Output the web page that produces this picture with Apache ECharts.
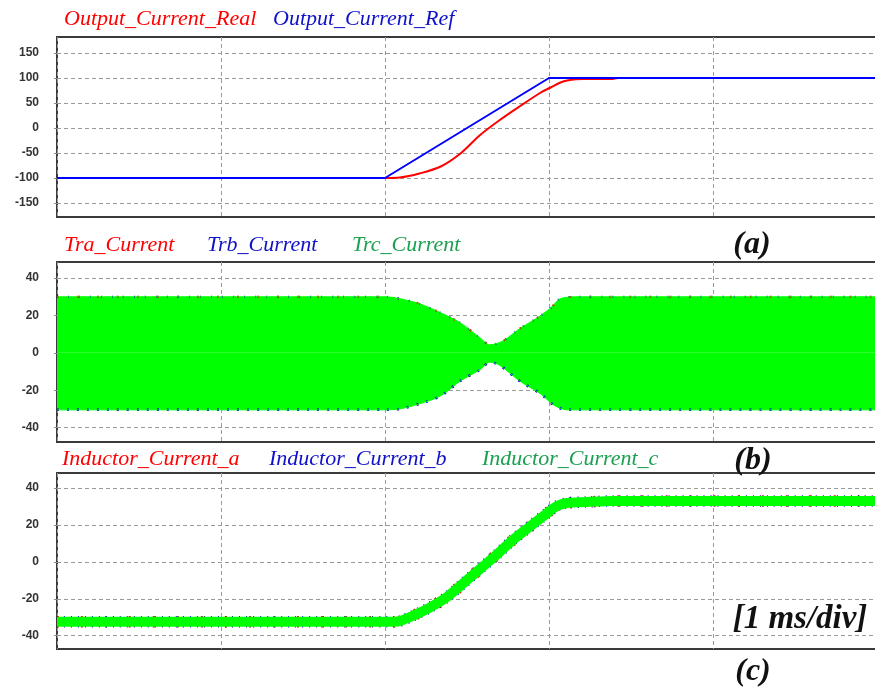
<!DOCTYPE html>
<html>
<head>
<meta charset="utf-8">
<script src="https://cdn.jsdelivr.net/npm/echarts@6/dist/echarts.min.js"></script>
<style>html,body{margin:0;padding:0;background:#fff}#c{width:875px;height:689px}</style>
</head>
<body>
<div id="c"></div>
<script>
// ---------- Data (time in ms) ----------
// Panel (a)
var refT = [0, 2.0, 3.0, 5.0];
var refV = [-100, -100, 100, 100];
var realT = [0, 2.0, 2.09, 2.21, 2.34, 2.46, 2.58, 2.70, 2.82, 2.95, 3.01, 3.07, 3.11, 3.21, 3.38, 3.42, 5.0];
var realV = [-100, -100, -99, -91, -77, -51, -14, 16, 43, 71, 81, 91, 95, 98, 98, 100, 100];
// Panel (b) envelopes of transformer currents
var upT = [0, 2.0, 2.09, 2.21, 2.34, 2.46, 2.58, 2.64, 2.72, 2.82, 2.93, 3.01, 3.07, 3.19, 5.0];
var upV = [30, 30, 29, 26.3, 21.4, 16, 8, 4.3, 6.4, 12.9, 18.8, 24, 29, 30, 30];
var loT = [0, 2.0, 2.09, 2.21, 2.34, 2.46, 2.58, 2.64, 2.70, 2.82, 2.95, 3.03, 3.11, 5.0];
var loV = [-30.5, -30.5, -30, -27.3, -23, -15, -9, -5, -6.7, -15, -22, -28, -30.5, -30.5];
// Panel (c) inductor current centre trace
var indT = [0, 2.05, 2.10, 2.17, 2.27, 2.38, 2.48, 2.58, 2.68, 2.78, 2.88, 2.99, 3.05, 3.11, 3.23, 3.39, 5.0];
var indV = [-32.5, -32.5, -31.8, -29.2, -24.9, -18.9, -11.4, -3.8, 3.8, 11.9, 18.9, 26.5, 30.3, 31.9, 32.4, 33, 33];
// Tick labels
var ticksA = [-150, -100, -50, 0, 50, 100, 150];
var ticksB = [-40, -20, 0, 20, 40];
var ticksC = [-40, -20, 0, 20, 40];

function pairs(t, v) { return t.map(function (x, i) { return [x, v[i]]; }); }

var RED = '#ff0000', BLUE = '#0000ff', GREEN = '#00ff00';
var gridLine = { show: true, lineStyle: { color: '#9a9a9a', type: [4, 3], width: 1 } };

function xAx(i) {
  return { gridIndex: i, type: 'value', min: 0, max: 5, interval: 1,
    axisLine: { show: false }, axisTick: { show: false }, axisLabel: { show: false },
    splitLine: gridLine };
}
function yAx(i, min, max, ticks) {
  return { gridIndex: i, type: 'value', min: min, max: max,
    axisLine: { show: false },
    axisTick: { show: true, customValues: ticks, length: 3, lineStyle: { color: '#888', width: 1 } },
    axisLabel: { customValues: ticks, color: '#333', fontSize: 12, fontWeight: 'bold', fontFamily: 'Liberation Sans', margin: 18 },
    splitLine: gridLine };
}
function txt(x, y, s, color, font, align) {
  return { type: 'text', x: x, y: y, silent: true,
    style: { text: s, fill: color, font: font, align: align || 'left', verticalAlign: 'middle' } };
}
var LF = 'italic 22px "Liberation Serif"';
var PF = 'italic bold 32px "Liberation Serif"';
var MF = 'italic bold 33px "Liberation Serif"';

function grid(top, h) {
  return { left: 57, top: top, height: h, width: 820, outerBoundsMode: 'none', containLabel: false,
    show: true, borderColor: '#3a3a3a', borderWidth: 2 };
}

var option = {
  animation: false,
  backgroundColor: '#fff',
  grid: [grid(37, 180), grid(262, 180), grid(473, 176)],
  xAxis: [xAx(0), xAx(1), xAx(2)],
  yAxis: [yAx(0, -178, 182, ticksA), yAx(1, -47.7, 48.6, ticksB), yAx(2, -47.2, 48.1, ticksC)],
  graphic: [
    txt(64, 19, 'Output_Current_Real', RED, LF),
    txt(273, 19, 'Output_Current_Ref', '#1010c8', LF),
    txt(64, 245, 'Tra_Current', RED, LF),
    txt(207, 245, 'Trb_Current', '#1010c8', LF),
    txt(352, 245, 'Trc_Current', '#1aa050', LF),
    txt(62, 459, 'Inductor_Current_a', RED, LF),
    txt(269, 459, 'Inductor_Current_b', '#1010c8', LF),
    txt(482, 459, 'Inductor_Current_c', '#1aa050', LF),
    txt(752, 245, '(a)', '#111', PF, 'center'),
    txt(753, 461, '(b)', '#111', PF, 'center'),
    txt(753, 672, '(c)', '#111', PF, 'center'),
    txt(800, 619, '[1 ms/div]', '#111', MF, 'center')
  ],
  series: [
    // (a)
    { name: 'Output_Current_Real', type: 'line', xAxisIndex: 0, yAxisIndex: 0, data: pairs(realT, realV),
      showSymbol: false, smooth: 0.3, lineStyle: { color: RED, width: 2 } },
    { name: 'Output_Current_Ref', type: 'line', xAxisIndex: 0, yAxisIndex: 0, data: pairs(refT, refV),
      showSymbol: false, lineStyle: { color: BLUE, width: 2 } },
    // (b) envelopes: red & blue edges under green fill
    { name: 'Tra_Current', type: 'line', xAxisIndex: 1, yAxisIndex: 1, data: pairs(upT, upV), showSymbol: false, smooth: 0.3,
      lineStyle: { color: RED, width: 2, type: [2, 18] } },
    { name: 'Tra_Current', type: 'line', xAxisIndex: 1, yAxisIndex: 1, data: pairs(loT, loV), showSymbol: false, smooth: 0.3,
      lineStyle: { color: RED, width: 2, type: [2, 18] } },
    { name: 'Trb_Current', type: 'line', xAxisIndex: 1, yAxisIndex: 1, data: pairs(upT, upV), showSymbol: false, smooth: 0.3,
      lineStyle: { color: BLUE, width: 2, type: [1, 10] } },
    { name: 'Trb_Current', type: 'line', xAxisIndex: 1, yAxisIndex: 1, data: pairs(loT, loV), showSymbol: false, smooth: 0.3,
      lineStyle: { color: BLUE, width: 2.5, type: [2, 8] } },
    { name: 'Trc_Current', type: 'line', xAxisIndex: 1, yAxisIndex: 1, data: pairs(upT, upV), showSymbol: false, smooth: 0.3,
      lineStyle: { color: GREEN, width: 1 }, areaStyle: { color: GREEN, opacity: 1, origin: 0 } },
    { name: 'Trc_Current', type: 'line', xAxisIndex: 1, yAxisIndex: 1, data: pairs(loT, loV), showSymbol: false, smooth: 0.3,
      lineStyle: { color: GREEN, width: 1 }, areaStyle: { color: GREEN, opacity: 1, origin: 0 } },
    // (c)
    { name: 'Inductor_Current_a', type: 'line', xAxisIndex: 2, yAxisIndex: 2, data: pairs(indT, indV), showSymbol: false, smooth: 0.3,
      lineStyle: { color: RED, width: 11.5, type: [2, 22], cap: 'butt' } },
    { name: 'Inductor_Current_b', type: 'line', xAxisIndex: 2, yAxisIndex: 2, data: pairs(indT, indV), showSymbol: false, smooth: 0.3,
      lineStyle: { color: BLUE, width: 11.5, type: [1, 6], cap: 'butt' } },
    { name: 'Inductor_Current_c', type: 'line', xAxisIndex: 2, yAxisIndex: 2, data: pairs(indT, indV), showSymbol: false, smooth: 0.3,
      lineStyle: { color: GREEN, width: 10, cap: 'butt' } }
  ]
};
var chart = echarts.init(document.getElementById('c'), null, { renderer: 'canvas' });
chart.setOption(option);
</script>
</body>
</html>
